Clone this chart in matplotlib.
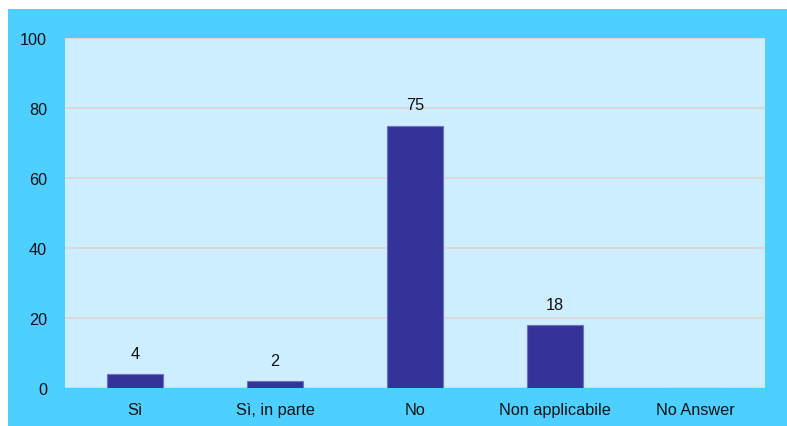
#!/usr/bin/env python3

import matplotlib
matplotlib.use('Agg')
import matplotlib.pyplot as plt
from matplotlib.patches import Rectangle

categories = ['Sì', 'Sì, in parte', 'No', 'Non applicabile', 'No Answer']
values = [4, 2, 75, 18, 0]
y_ticks = [0, 20, 40, 60, 80, 100]

W, H = 787, 427
FS = 11.7


def plot_results():
	plt.rcParams['font.family'] = ['Liberation Sans', 'DejaVu Sans']
	fig = plt.figure(figsize=(W / 100, H / 100), dpi=100)
	fig.patch.set_facecolor('white')

	# cyan frame behind the chart
	fig.patches.append(Rectangle((8 / W, 0), 1 - 8 / W, 1 - 10 / H,
		transform=fig.transFigure, facecolor='#4dcfff', edgecolor='none', zorder=-1))

	ax = fig.add_axes([65 / W, 1 - 389 / H, 700 / W, 350 / H])
	ax.set_zorder(1)
	ax.set_facecolor('#cceeff')

	x = list(range(len(categories)))
	bars = ax.bar(x, values, width=0.4, color='#333399', edgecolor='#6f6fc8', linewidth=0.8, zorder=3)
	for b, v in zip(bars, values):
		if v > 0:
			ax.annotate(str(v), (b.get_x() + b.get_width() / 2, v), xytext=(0, 9.5),
				textcoords='offset points', ha='center', va='bottom', fontsize=FS, color='#111111')

	ax.set_xlim(-0.5, len(categories) - 0.5)
	ax.set_ylim(0, 100)
	ax.set_yticks(y_ticks)
	ax.set_xticks(x)
	ax.set_xticklabels(categories)
	ax.tick_params(axis='both', length=0, labelsize=FS, colors='#111111')
	ax.tick_params(axis='y', pad=13)
	ax.tick_params(axis='x', pad=10)
	ax.yaxis.grid(True, color='#d9d9d9', linewidth=1.5, zorder=1)
	ax.set_axisbelow(True)
	for s in ax.spines.values():
		s.set_visible(False)
	ax.axhline(0, color='#d9d9d9', linewidth=1.5, zorder=2)

	fig.savefig('out.png', dpi=100)


if __name__ == '__main__':
	plot_results()
